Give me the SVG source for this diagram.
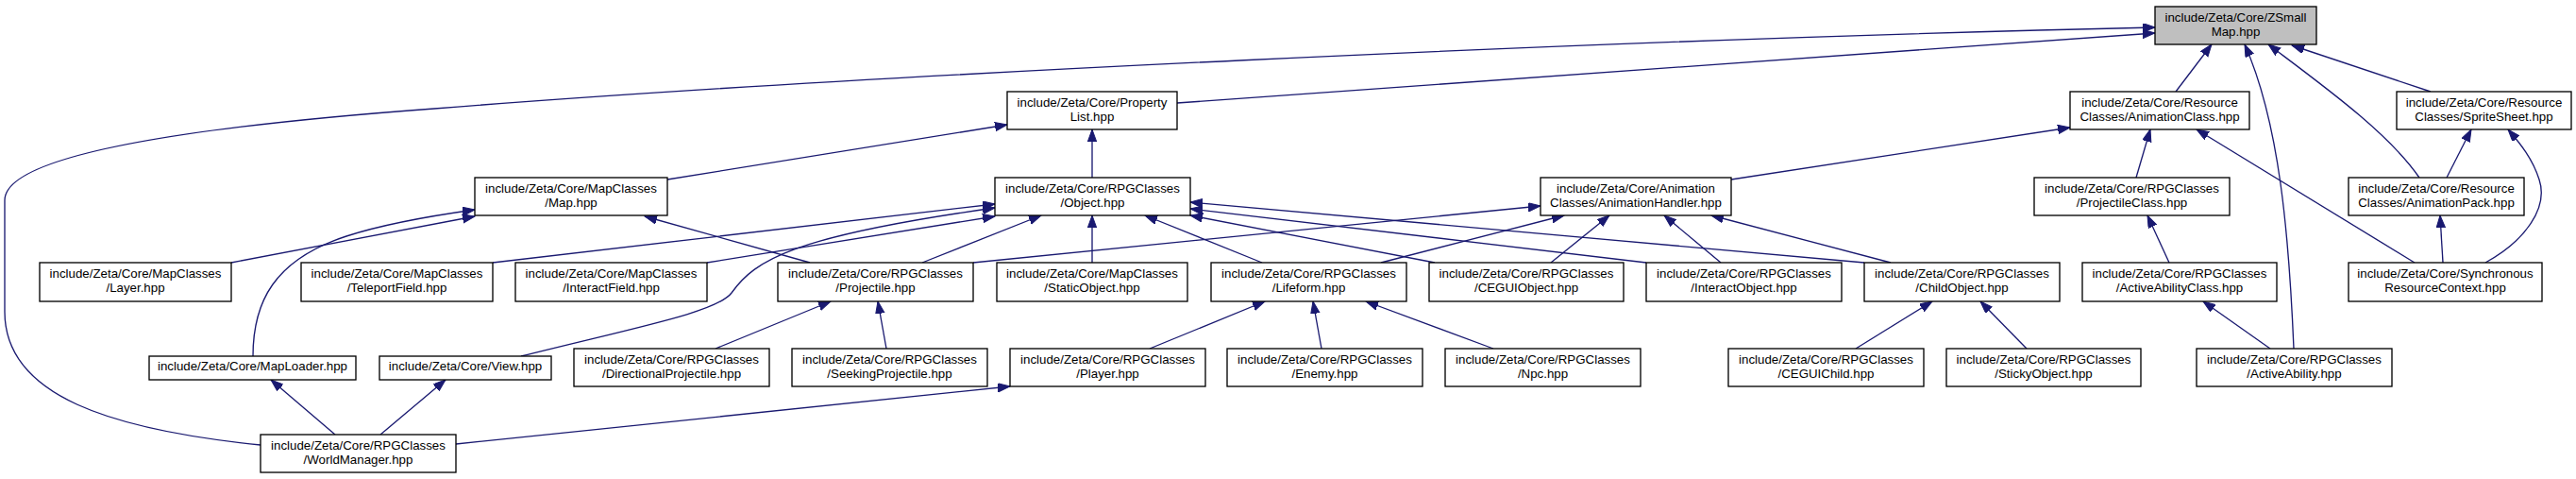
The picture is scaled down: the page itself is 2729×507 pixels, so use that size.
<svg xmlns="http://www.w3.org/2000/svg" width="2729" height="507" viewBox="0 0 2729 507">
<defs>
<style>
.n rect{fill:#fff;stroke:#000;stroke-width:1.33}
.n.sel rect{fill:#bfbfbf}
.n text{font-family:"Liberation Sans",Arial,Helvetica,sans-serif;font-size:13.3px;fill:#000;text-anchor:middle}
.e path{fill:none;stroke:#191970;stroke-width:1.33;marker-end:url(#ah)}
</style>
<marker id="ah" markerUnits="userSpaceOnUse" markerWidth="14" markerHeight="11" refX="13" refY="4.7" orient="auto">
<path d="M0,0 L13,4.7 L0,9.4 z" fill="#191970" stroke="#191970" stroke-width="1"/>
</marker>
</defs>
<rect width="2729" height="507" fill="#fff"/>
<g class="e" id="edges">
<path d="M276,471 C120,455 5,420 5,330 L5,212 C5,175 120,140 460,115 C900,80 1700,42 2283,29"/>
<path d="M1247,109 L2283,35"/>
<path d="M2305,97 L2343,47"/>
<path d="M2430,369 C2425,250 2415,130 2378,47"/>
<path d="M2563,188 C2530,140 2460,90 2403,47"/>
<path d="M2575,97 L2428,48"/>
<path d="M707,190 L1067,132"/>
<path d="M1157,188 L1157,137"/>
<path d="M1834,190 L2193,135"/>
<path d="M2263,188 L2278,137"/>
<path d="M2558,278 L2327,137"/>
<path d="M2592,188 L2618,137"/>
<path d="M2633,278 C2675,255 2700,220 2690,190 C2683,168 2670,152 2657,137"/>
<path d="M2588,278 L2585,228"/>
<path d="M245,278 L503,229"/>
<path d="M268,377 C268,320 290,275 367,250 C410,236 460,228 503,222"/>
<path d="M858,278 L683,229"/>
<path d="M522,278 L1054,216"/>
<path d="M749,278 L1054,229"/>
<path d="M552,377 C680,345 760,330 775,310 C800,275 840,250 1054,220"/>
<path d="M977,278 L1103,228"/>
<path d="M1157,278 L1157,228"/>
<path d="M1337,278 L1213,228"/>
<path d="M1520,278 L1261,228"/>
<path d="M1744,278 L1261,221"/>
<path d="M1975,278 L1261,214"/>
<path d="M1031,278 L1632,218"/>
<path d="M1463,278 L1657,228"/>
<path d="M1643,278 L1705,228"/>
<path d="M1823,278 L1763,228"/>
<path d="M2003,278 L1813,228"/>
<path d="M2298,278 L2275,228"/>
<path d="M758,369 L880,319"/>
<path d="M939,369 L930,319"/>
<path d="M1218,369 L1340,319"/>
<path d="M1400,369 L1391,319"/>
<path d="M1582,369 L1447,319"/>
<path d="M1966,369 L2047,319"/>
<path d="M2147,369 L2098,319"/>
<path d="M2405,369 L2334,319"/>
<path d="M355,460 L287,402"/>
<path d="M403,460 L472,402"/>
<path d="M483,470 L1070,409"/>
</g>
<g class="n sel" id="zsmallmap"><rect x="2283" y="7" width="171" height="40"/><text x="2368.5" y="23.3">include/Zeta/Core/ZSmall</text><text x="2368.5" y="37.7">Map.hpp</text></g>
<g class="n" id="propertylist"><rect x="1067" y="97" width="180" height="40"/><text x="1157" y="113.3">include/Zeta/Core/Property</text><text x="1157" y="127.7">List.hpp</text></g>
<g class="n" id="animationclass"><rect x="2193" y="97" width="190" height="40"/><text x="2288" y="113.3">include/Zeta/Core/Resource</text><text x="2288" y="127.7">Classes/AnimationClass.hpp</text></g>
<g class="n" id="spritesheet"><rect x="2539" y="97" width="185" height="40"/><text x="2631.5" y="113.3">include/Zeta/Core/Resource</text><text x="2631.5" y="127.7">Classes/SpriteSheet.hpp</text></g>
<g class="n" id="map"><rect x="503" y="188" width="204" height="40"/><text x="605" y="204.3">include/Zeta/Core/MapClasses</text><text x="605" y="218.7">/Map.hpp</text></g>
<g class="n" id="object"><rect x="1054" y="188" width="207" height="40"/><text x="1157.5" y="204.3">include/Zeta/Core/RPGClasses</text><text x="1157.5" y="218.7">/Object.hpp</text></g>
<g class="n" id="animationhandler"><rect x="1632" y="188" width="202" height="40"/><text x="1733" y="204.3">include/Zeta/Core/Animation</text><text x="1733" y="218.7">Classes/AnimationHandler.hpp</text></g>
<g class="n" id="projectileclass"><rect x="2155" y="188" width="207" height="40"/><text x="2258.5" y="204.3">include/Zeta/Core/RPGClasses</text><text x="2258.5" y="218.7">/ProjectileClass.hpp</text></g>
<g class="n" id="animationpack"><rect x="2488" y="188" width="186" height="40"/><text x="2581" y="204.3">include/Zeta/Core/Resource</text><text x="2581" y="218.7">Classes/AnimationPack.hpp</text></g>
<g class="n" id="layer"><rect x="42" y="278" width="203" height="41"/><text x="143.5" y="294.3">include/Zeta/Core/MapClasses</text><text x="143.5" y="308.7">/Layer.hpp</text></g>
<g class="n" id="teleportfield"><rect x="319" y="278" width="203" height="41"/><text x="420.5" y="294.3">include/Zeta/Core/MapClasses</text><text x="420.5" y="308.7">/TeleportField.hpp</text></g>
<g class="n" id="interactfield"><rect x="546" y="278" width="203" height="41"/><text x="647.5" y="294.3">include/Zeta/Core/MapClasses</text><text x="647.5" y="308.7">/InteractField.hpp</text></g>
<g class="n" id="projectile"><rect x="824" y="278" width="207" height="41"/><text x="927.5" y="294.3">include/Zeta/Core/RPGClasses</text><text x="927.5" y="308.7">/Projectile.hpp</text></g>
<g class="n" id="staticobject"><rect x="1056" y="278" width="202" height="41"/><text x="1157" y="294.3">include/Zeta/Core/MapClasses</text><text x="1157" y="308.7">/StaticObject.hpp</text></g>
<g class="n" id="lifeform"><rect x="1283" y="278" width="207" height="41"/><text x="1386.5" y="294.3">include/Zeta/Core/RPGClasses</text><text x="1386.5" y="308.7">/Lifeform.hpp</text></g>
<g class="n" id="ceguiobject"><rect x="1514" y="278" width="206" height="41"/><text x="1617" y="294.3">include/Zeta/Core/RPGClasses</text><text x="1617" y="308.7">/CEGUIObject.hpp</text></g>
<g class="n" id="interactobject"><rect x="1744" y="278" width="207" height="41"/><text x="1847.5" y="294.3">include/Zeta/Core/RPGClasses</text><text x="1847.5" y="308.7">/InteractObject.hpp</text></g>
<g class="n" id="childobject"><rect x="1975" y="278" width="207" height="41"/><text x="2078.5" y="294.3">include/Zeta/Core/RPGClasses</text><text x="2078.5" y="308.7">/ChildObject.hpp</text></g>
<g class="n" id="activeabilityclass"><rect x="2206" y="278" width="206" height="41"/><text x="2309" y="294.3">include/Zeta/Core/RPGClasses</text><text x="2309" y="308.7">/ActiveAbilityClass.hpp</text></g>
<g class="n" id="synchronous"><rect x="2488" y="278" width="205" height="41"/><text x="2590.5" y="294.3">include/Zeta/Core/Synchronous</text><text x="2590.5" y="308.7">ResourceContext.hpp</text></g>
<g class="n" id="maploader"><rect x="158" y="377" width="219" height="25"/><text x="267.5" y="391.7">include/Zeta/Core/MapLoader.hpp</text></g>
<g class="n" id="view"><rect x="402" y="377" width="182" height="25"/><text x="493" y="391.7">include/Zeta/Core/View.hpp</text></g>
<g class="n" id="directionalprojectile"><rect x="608" y="369" width="207" height="40"/><text x="711.5" y="385.3">include/Zeta/Core/RPGClasses</text><text x="711.5" y="399.7">/DirectionalProjectile.hpp</text></g>
<g class="n" id="seekingprojectile"><rect x="839" y="369" width="207" height="40"/><text x="942.5" y="385.3">include/Zeta/Core/RPGClasses</text><text x="942.5" y="399.7">/SeekingProjectile.hpp</text></g>
<g class="n" id="player"><rect x="1070" y="369" width="207" height="40"/><text x="1173.5" y="385.3">include/Zeta/Core/RPGClasses</text><text x="1173.5" y="399.7">/Player.hpp</text></g>
<g class="n" id="enemy"><rect x="1300" y="369" width="207" height="40"/><text x="1403.5" y="385.3">include/Zeta/Core/RPGClasses</text><text x="1403.5" y="399.7">/Enemy.hpp</text></g>
<g class="n" id="npc"><rect x="1531" y="369" width="207" height="40"/><text x="1634.5" y="385.3">include/Zeta/Core/RPGClasses</text><text x="1634.5" y="399.7">/Npc.hpp</text></g>
<g class="n" id="ceguichild"><rect x="1831" y="369" width="207" height="40"/><text x="1934.5" y="385.3">include/Zeta/Core/RPGClasses</text><text x="1934.5" y="399.7">/CEGUIChild.hpp</text></g>
<g class="n" id="stickyobject"><rect x="2062" y="369" width="206" height="40"/><text x="2165" y="385.3">include/Zeta/Core/RPGClasses</text><text x="2165" y="399.7">/StickyObject.hpp</text></g>
<g class="n" id="activeability"><rect x="2327" y="369" width="207" height="40"/><text x="2430.5" y="385.3">include/Zeta/Core/RPGClasses</text><text x="2430.5" y="399.7">/ActiveAbility.hpp</text></g>
<g class="n" id="worldmanager"><rect x="276" y="460" width="207" height="40"/><text x="379.5" y="476.3">include/Zeta/Core/RPGClasses</text><text x="379.5" y="490.7">/WorldManager.hpp</text></g>
</svg>
